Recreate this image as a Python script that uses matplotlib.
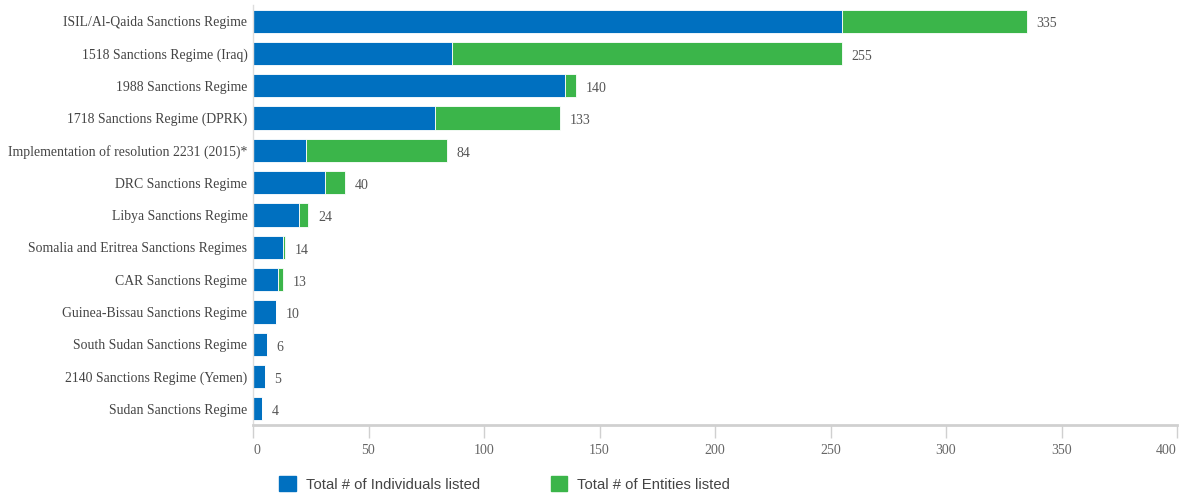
import matplotlib
matplotlib.use('Agg')
import matplotlib.pyplot as plt
from matplotlib.patches import Patch

regimes = ['ISIL/Al-Qaida Sanctions Regime', '1518 Sanctions Regime (Iraq)',
           '1988 Sanctions Regime', '1718 Sanctions Regime (DPRK)',
           'Implementation of resolution 2231 (2015)*', 'DRC Sanctions Regime',
           'Libya Sanctions Regime', 'Somalia and Eritrea Sanctions Regimes',
           'CAR Sanctions Regime', 'Guinea-Bissau Sanctions Regime',
           'South Sudan Sanctions Regime', '2140 Sanctions Regime (Yemen)',
           'Sudan Sanctions Regime']
individuals = [255, 86, 135, 79, 23, 31, 20, 13, 11, 10, 6, 5, 4]
entities = [80, 169, 5, 54, 61, 9, 4, 1, 2, 0, 0, 0, 0]
xticks = [0, 50, 100, 150, 200, 250, 300, 350, 400]

blue = '#0070c0'
green = '#3bb54a'
serif = 'Liberation Serif'

fig = plt.figure(figsize=(11.84, 4.95), dpi=100)
ax = fig.add_axes([253 / 1184, 1 - 425 / 495, 924 / 1184, 420 / 495])

ypos = list(range(len(regimes)))
ax.barh(ypos, individuals, height=0.72, color=blue, edgecolor='white', linewidth=0.6)
ax.barh(ypos, entities, left=individuals, height=0.72, color=green, edgecolor='white', linewidth=0.6)

for y, a, b in zip(ypos, individuals, entities):
    ax.annotate(str(a + b), (a + b, y), xytext=(7, -2), textcoords='offset points',
                va='center', ha='left', fontsize=10, color='#555555', family=serif)

ax.set_ylim(len(regimes) - 0.5, -0.5)
ax.set_xlim(0, 400)
ax.set_xticks(xticks)
ax.set_xticklabels([str(t) for t in xticks], family=serif, fontsize=10, color='#666666')
ax.get_xticklabels()[-1].set_ha('right')
ax.get_xticklabels()[0].set_ha('left')
ax.set_yticks(ypos)
ax.set_yticklabels(regimes, family=serif, fontsize=9.9, color='#444444')
ax.tick_params(axis='y', length=0, pad=4)
ax.tick_params(axis='x', length=9, width=1, color='#d0d0d0', pad=5)

for s in ['top', 'right']:
    ax.spines[s].set_visible(False)
ax.spines['left'].set_color('#dddddd')
ax.spines['left'].set_linewidth(1)
ax.spines['bottom'].set_color('#d0d0d0')
ax.spines['bottom'].set_linewidth(2)

handles = [Patch(color=blue, label='Total # of Individuals listed'),
           Patch(color=green, label='Total # of Entities listed')]
fig.legend(handles=handles, loc='center left', bbox_to_anchor=(266 / 1184, 1 - 484 / 495),
           ncol=2, frameon=False, handlelength=1.1, handleheight=1.1, handletextpad=0.7,
           columnspacing=4.7, prop={'family': 'Liberation Sans', 'size': 10.75},
           labelcolor='#444444')

fig.savefig('out.png', dpi=100)
